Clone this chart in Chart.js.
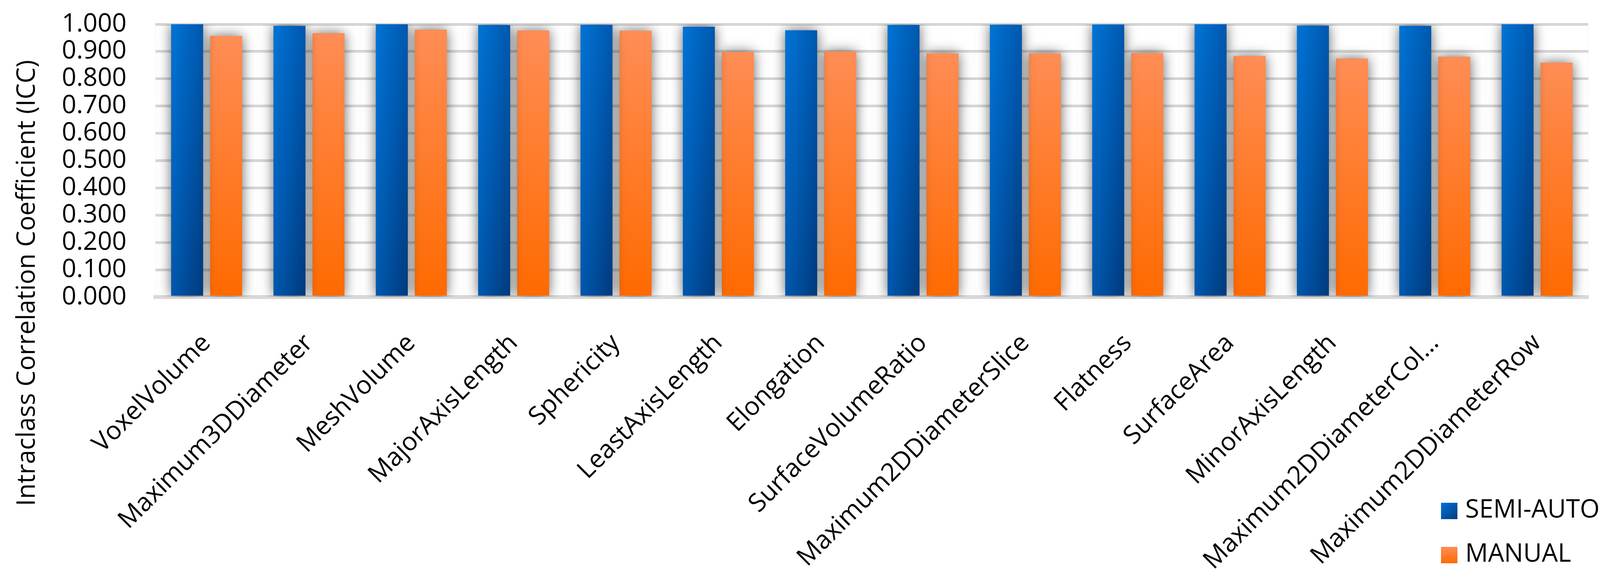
<!DOCTYPE html>
<html>
<head>
<meta charset="utf-8">
<script src="https://cdn.jsdelivr.net/npm/chart.js@4.4.1/dist/chart.umd.min.js"></script>
<style>
  html, body { margin: 0; padding: 0; background: #ffffff; }
  #wrap { width: 4130px; height: 1491px; position: relative; }
</style>
</head>
<body>
<div id="wrap"><canvas id="c"></canvas></div>
<script>
const categories = ['VoxelVolume','Maximum3DDiameter','MeshVolume','MajorAxisLength','Sphericity','LeastAxisLength','Elongation','SurfaceVolumeRatio','Maximum2DDiameterSlice','Flatness','SurfaceArea','MinorAxisLength','Maximum2DDiameterCol\u2026','Maximum2DDiameterRow'];
const semiAuto = [1.000, 0.994, 1.000, 0.997, 0.998, 0.991, 0.978, 0.997, 0.998, 0.999, 1.000, 0.995, 0.994, 1.000];
const manual   = [0.957, 0.967, 0.980, 0.977, 0.976, 0.898, 0.900, 0.893, 0.893, 0.894, 0.883, 0.874, 0.881, 0.859];
const seriesNames = ['SEMI-AUTO', 'MANUAL'];
const yTickLabels = ['0.000','0.100','0.200','0.300','0.400','0.500','0.600','0.700','0.800','0.900','1.000'];
const yTitle = 'Intraclass Correlation Coefficient (ICC)';

const FONT = '"Open Sans", "Noto Sans", sans-serif';
const FS = 65;
const CAT_PCT = 0.763;
const BAR_PCT = 0.82;

function barBox(ctx) {
  const ch = ctx.chart, xs = ch.scales.x, ys = ch.scales.y;
  if (!xs || !ys || !ch.chartArea || ctx.raw === undefined) return null;
  const n = ch.data.labels.length;
  const catW = (xs.right - xs.left) / n;
  const slot = catW * CAT_PCT / 2;
  const cx = xs.getPixelForValue(ctx.dataIndex) + (ctx.datasetIndex - 0.5) * slot;
  const hw = slot * BAR_PCT / 2;
  return { l: cx - hw, r: cx + hw, t: ys.getPixelForValue(ctx.raw), b: ys.getPixelForValue(0) };
}
function blueGrad(c, l, r, t, b) {
  const w = Math.max(r - l, 1), h = Math.max(b - t, 1);
  const D = 4 / (1 / (w * w) + 1 / (h * h));
  const g = c.createLinearGradient(l, t, l + D / (2 * w), t + D / (2 * h));
  g.addColorStop(0, '#0074d6');
  g.addColorStop(0.5, '#0058ae');
  g.addColorStop(1, '#003a7c');
  return g;
}
function orangeGrad(c, t, b) {
  const g = c.createLinearGradient(0, t, 0, b);
  g.addColorStop(0, '#ff8d55');
  g.addColorStop(1, '#ff6a00');
  return g;
}

const shadowPlugin = {
  id: 'barShadow',
  beforeDatasetsDraw(chart) {
    const c = chart.ctx;
    c.save();
    c.shadowColor = 'rgba(0,0,0,0.6)';
    c.shadowBlur = 32;
    c.shadowOffsetX = 0;
    c.shadowOffsetY = 0;
  },
  afterDatasetsDraw(chart) { chart.ctx.restore(); }
};

const titlePlugin = {
  id: 'yTitle',
  afterDraw(chart) {
    const c = chart.ctx;
    c.save();
    c.translate(89, 725);
    c.rotate(-Math.PI / 2);
    c.font = FS + 'px ' + FONT;
    c.fillStyle = '#000';
    c.textAlign = 'center';
    c.textBaseline = 'alphabetic';
    c.fillText(yTitle, 0, 0);
    c.restore();
  }
};

const legendPlugin = {
  id: 'cornerLegend',
  afterDraw(chart) {
    const c = chart.ctx;
    const x0 = 3689, y0 = 1309, gap = 113, s = 42;
    c.save();
    chart.data.datasets.forEach((ds, i) => {
      const yc = y0 + i * gap;
      const t = yc - s / 2, b = yc + s / 2;
      c.fillStyle = i === 0 ? blueGrad(c, x0, x0 + s, t, b) : orangeGrad(c, t, b);
      c.fillRect(x0, t, s, s);
      c.fillStyle = '#000';
      c.font = FS + 'px ' + FONT;
      c.textAlign = 'left';
      c.textBaseline = 'middle';
      c.fillText(ds.label, x0 + 62, yc - 2);
    });
    c.restore();
  }
};

new Chart(document.getElementById('c'), {
  type: 'bar',
  data: {
    labels: categories,
    datasets: [
      {
        label: seriesNames[0],
        data: semiAuto,
        backgroundColor: (ctx) => {
          const bb = barBox(ctx);
          if (!bb) return '#0060b8';
          return blueGrad(ctx.chart.ctx, bb.l, bb.r, bb.t, bb.b);
        },
        borderWidth: 0,
        categoryPercentage: CAT_PCT,
        barPercentage: BAR_PCT
      },
      {
        label: seriesNames[1],
        data: manual,
        backgroundColor: (ctx) => {
          const bb = barBox(ctx);
          if (!bb) return '#ff7a20';
          return orangeGrad(ctx.chart.ctx, bb.t, bb.b);
        },
        borderWidth: 0,
        categoryPercentage: CAT_PCT,
        barPercentage: BAR_PCT
      }
    ]
  },
  options: {
    responsive: true,
    maintainAspectRatio: false,
    devicePixelRatio: 1,
    animation: false,
    layout: { padding: { left: 0, right: 64, top: 62, bottom: 0 } },
    plugins: {
      legend: { display: false },
      tooltip: { enabled: false },
      title: { display: false }
    },
    scales: {
      x: {
        afterFit(scale) { scale.height = 730; },
        grid: { display: true, drawTicks: false, color: 'rgba(0,0,0,0.025)', lineWidth: 2 },
        border: { display: true, color: '#d9d9d9', width: 10 },
        ticks: {
          autoSkip: false,
          maxRotation: 45,
          minRotation: 45,
          padding: 80,
          color: '#000',
          font: { family: FONT, size: FS }
        }
      },
      y: {
        min: 0,
        max: 1,
        afterFit(scale) { scale.width = 398; },
        grid: { drawTicks: true, tickLength: 70, tickColor: 'rgba(0,0,0,0)', color: '#d6d6d6', lineWidth: 7 },
        border: { display: false },
        ticks: {
          autoSkip: false,
          stepSize: 0.1,
          padding: 4,
          color: '#000',
          font: { family: FONT, size: FS },
          callback: (v, i) => yTickLabels[i]
        }
      }
    }
  },
  plugins: [shadowPlugin, titlePlugin, legendPlugin]
});
</script>
</body>
</html>
